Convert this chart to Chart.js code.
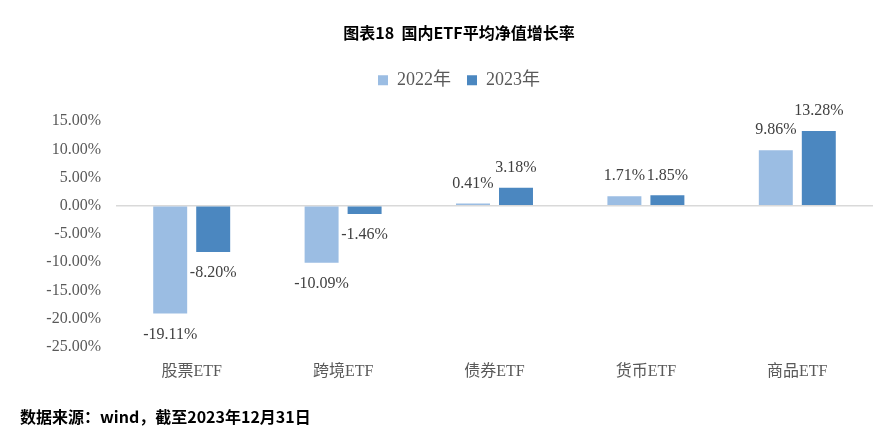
<!DOCTYPE html>
<html>
<head>
<meta charset="utf-8">
<script src="https://cdn.jsdelivr.net/npm/chart.js@4/dist/chart.umd.min.js"></script>
<style>
  html, body { margin: 0; padding: 0; background: #fff; }
  #wrap { position: relative; width: 885px; height: 448px; }
  #note {
    position: absolute; left: 20px; top: 404px;
    font: bold 16px 'Noto Sans CJK SC', sans-serif; color: #000;
  }
</style>
</head>
<body>
<div id="wrap">
  <canvas id="chart" width="885" height="448"></canvas>
  <div id="note">数据来源：wind，截至2023年12月31日</div>
</div>
<script>
// 数据
const categories = ['股票ETF', '跨境ETF', '债券ETF', '货币ETF', '商品ETF'];
const values2022 = [-19.11, -10.09, 0.41, 1.71, 9.86];
const values2023 = [-8.20, -1.46, 3.18, 1.85, 13.28];
const seriesNames = ['2022年', '2023年'];
const yTicks = [15, 10, 5, 0, -5, -10, -15, -20, -25];

const serif = "'Liberation Serif', 'Noto Sans CJK SC', serif";

// 数据标签
const labelPlugin = {
  id: 'barLabels',
  afterDatasetsDraw(chart) {
    const ctx = chart.ctx;
    ctx.save();
    ctx.font = '16px ' + serif;
    ctx.fillStyle = '#404040';
    ctx.textAlign = 'center';
    ctx.textBaseline = 'middle';
    chart.data.datasets.forEach((ds, i) => {
      chart.getDatasetMeta(i).data.forEach((bar, j) => {
        const v = ds.data[j];
        const y = v >= 0 ? bar.y - 20 : bar.y + 21;
        ctx.fillText(v.toFixed(2) + '%', bar.x, y);
      });
    });
    ctx.restore();
  }
};

// 图例下方留白
const legendSpace = {
  id: 'legendSpace',
  beforeLayout(chart) {
    const lg = chart.legend;
    if (lg && !lg._spaced) {
      const fit = lg.fit.bind(lg);
      lg.fit = function () { fit(); this.height += 22; };
      lg._spaced = true;
    }
  }
};

new Chart(document.getElementById('chart'), {
  type: 'bar',
  data: {
    labels: categories,
    datasets: [
      { label: seriesNames[0], data: values2022, backgroundColor: '#9bbde3' },
      { label: seriesNames[1], data: values2023, backgroundColor: '#4b87c0' }
    ]
  },
  options: {
    responsive: false,
    animation: false,
    layout: { padding: { left: 33, right: 0, top: 0, bottom: 60 } },
    datasets: { bar: { categoryPercentage: 0.568, barPercentage: 0.79 } },
    plugins: {
      title: {
        display: true,
        text: '图表18  国内ETF平均净值增长率',
        color: '#000',
        font: { family: "'Noto Sans CJK SC', sans-serif", size: 16, weight: 'bold' },
        padding: { top: 23, bottom: 13 }
      },
      legend: {
        position: 'top',
        labels: {
          boxWidth: 10, boxHeight: 10, padding: 16,
          color: '#595959',
          font: { family: serif, size: 18 }
        }
      },
      tooltip: { enabled: false }
    },
    scales: {
      x: {
        grid: { display: false },
        border: { display: false },
        ticks: { color: '#595959', font: { family: serif, size: 16 }, padding: 7 }
      },
      y: {
        min: -25, max: 15,
        afterBuildTicks(s) { s.ticks = yTicks.map(v => ({ value: v })); },
        afterFit(s) { s.width = 83; },
        border: { display: false },
        grid: {
          drawTicks: false,
          color: c => (c.tick && c.tick.value === 0 ? '#d9d9d9' : 'transparent'),
          lineWidth: 1.5
        },
        ticks: {
          color: '#595959', padding: 15,
          font: { family: serif, size: 16 },
          callback: v => v.toFixed(2) + '%'
        }
      },
      yr: {
        position: 'right',
        grid: { display: false },
        border: { display: false },
        ticks: { display: false },
        afterFit(s) { s.width = 12; }
      }
    }
  },
  plugins: [labelPlugin, legendSpace]
});
</script>
</body>
</html>
